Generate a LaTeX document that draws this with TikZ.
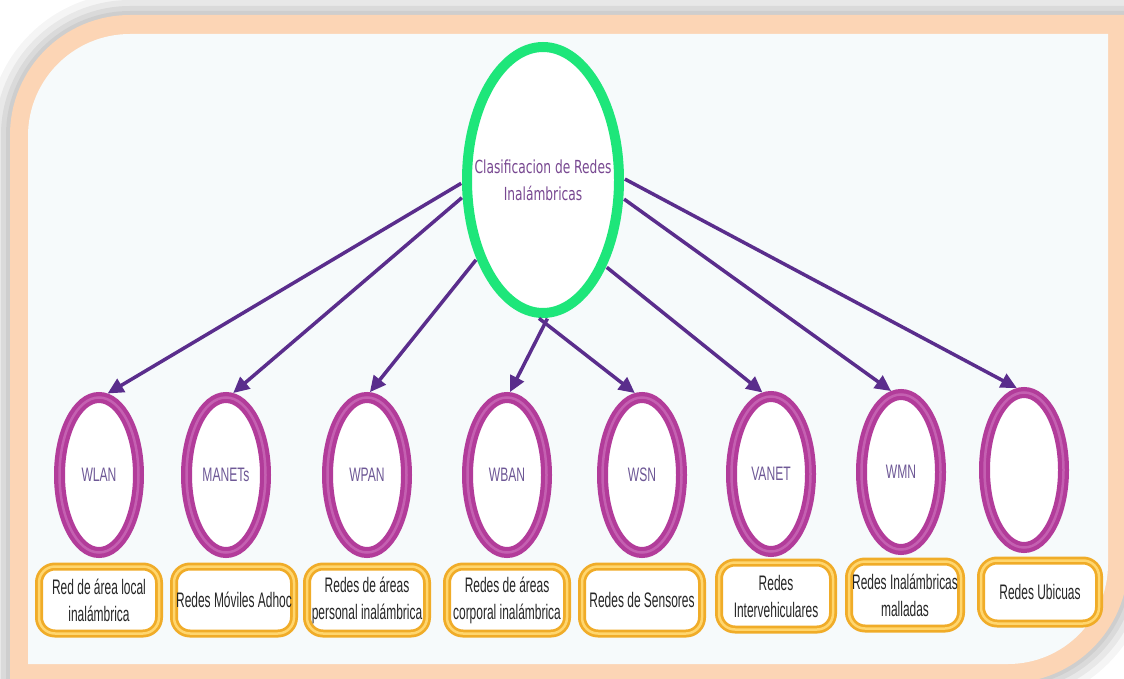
\documentclass[tikz,border=0pt]{standalone}
\usepackage{fontspec}
\usetikzlibrary{shapes.geometric,arrows.meta}
\newfontfamily\boxfont{Liberation Sans}[FakeStretch=0.57]
\newfontfamily\ringfont{Liberation Sans}[FakeStretch=0.62]
\newfontfamily\hubfont{DejaVu Sans}[FakeStretch=0.68]
\definecolor{peach}{RGB}{252,213,181}
\definecolor{panel}{RGB}{246,250,251}
\definecolor{hubgreen}{RGB}{30,230,122}
\definecolor{arrowpurple}{RGB}{90,45,140}
\definecolor{ringmag}{RGB}{178,60,154}
\definecolor{ringlight}{RGB}{220,140,205}
\definecolor{boxgold}{RGB}{240,172,40}
\definecolor{boxlight}{RGB}{255,214,110}
\definecolor{ringtext}{RGB}{110,88,150}
\definecolor{hubtext}{RGB}{120,72,145}
\begin{document}
\begin{tikzpicture}[x=1pt,y=-1pt,
  hub/.style={ellipse, draw=hubgreen, line width=10pt, fill=white,
    minimum width=152pt, minimum height=266pt, inner sep=0pt},
  hubcaption/.style={align=center, inner sep=0pt, text=hubtext,
    font=\hubfont\fontsize{18}{27}\selectfont},
  ring/.style={ellipse, draw=ringmag, line width=11pt, fill=white,
    minimum width=79pt, minimum height=155pt, inner sep=0pt,
    text=ringtext, font=\ringfont\fontsize{19.5}{24}\selectfont,
    postaction={draw=ringlight, line width=2.5pt, opacity=0.45}},
  tagbox/.style={rectangle, rounded corners=16pt, draw=boxgold, line width=8pt,
    fill=white, minimum width=120pt, minimum height=67pt, inner sep=0pt,
    align=center, text=black!85, font=\boxfont\fontsize{21}{27}\selectfont,
    postaction={draw=boxlight, line width=2.5pt}},
  link/.style={draw=arrowpurple, line width=3.5pt,
    -{Triangle[length=16pt,width=15pt]}, shorten <=1pt, shorten >=0pt}
]
\useasboundingbox (0,0) rectangle (1124,679);
\fill[white] (0,0) rectangle (1124,679);

% soft shadow around the frame
\foreach \w/\o in {44/0.04, 30/0.05, 18/0.06, 8/0.05}
  \draw[black, line width=\w pt, opacity=\o, line join=round]
    (10,135) .. controls (10,68.8) and (63.8,15) .. (130,15) -- (1128,15)
    -- (1128,563) .. controls (1128,629.2) and (1074.2,683) .. (1008,683)
    -- (10,683) -- cycle;

% peach frame
\fill[peach]
  (10,135) .. controls (10,68.8) and (63.8,15) .. (130,15) -- (1128,15)
  -- (1128,563) .. controls (1128,629.2) and (1074.2,683) .. (1008,683)
  -- (10,683) -- cycle;

% inner panel
\fill[panel]
  (28,136) .. controls (28,79.7) and (73.7,34) .. (130,34) -- (1108,34)
  -- (1108,564) .. controls (1108,619.2) and (1063.2,664) .. (1008,664)
  -- (28,664) -- cycle;

% central node
\node[hub] (hub) at (543,180) {};
\node[hubcaption] (hubtxt) at (hub.center) {Clasificacion de Redes\\Inalámbricas};

% network types
\node[ring] (wlan)  at (99,475)  {WLAN};
\node[ring] (manet) at (226,475) {MANETs};
\node[ring] (wpan)  at (367,475) {WPAN};
\node[ring] (wban)  at (507,475) {WBAN};
\node[ring] (wsn)   at (642,475) {WSN};
\node[ring] (vanet) at (771,474) {VANET};
\node[ring] (wmn)   at (901,472) {WMN};
\node[ring] (ubi)   at (1024,470) {};

% descriptions
\node[tagbox] (t1) at (99,600)   {Red de área local\\inalámbrica};
\node[tagbox] (t2) at (234,600)  {Redes Móviles Adhoc};
\node[tagbox] (t3) at (367,600)  {Redes de áreas\\personal inalámbrica};
\node[tagbox] (t4) at (507,600)  {Redes de áreas\\corporal inalámbrica};
\node[tagbox] (t5) at (642,600)  {Redes de Sensores};
\node[tagbox, minimum width=114pt] (t6) at (776,596) {Redes\\Intervehiculares};
\node[tagbox, minimum width=112pt] (t7) at (905,595) {Redes Inalámbricas\\malladas};
\node[tagbox, minimum width=118pt, minimum height=63pt] (t8) at (1040,592) {Redes Ubicuas};

% connectors
\draw[link] (hub.182) -- (wlan.84);
\draw[link] (hub.192) -- (manet.85);
\draw[link] (hub.230) -- (wpan.88);
\draw[link] (hub.272) -- (wban.88);
\draw[link] (hub.268) -- (wsn.95);
\draw[link] (hub.306) -- (vanet.96);
\draw[link] (hub.347) -- (wmn.97);
\draw[link] (hub.1)   -- (ubi.95);
\end{tikzpicture}
\end{document}
